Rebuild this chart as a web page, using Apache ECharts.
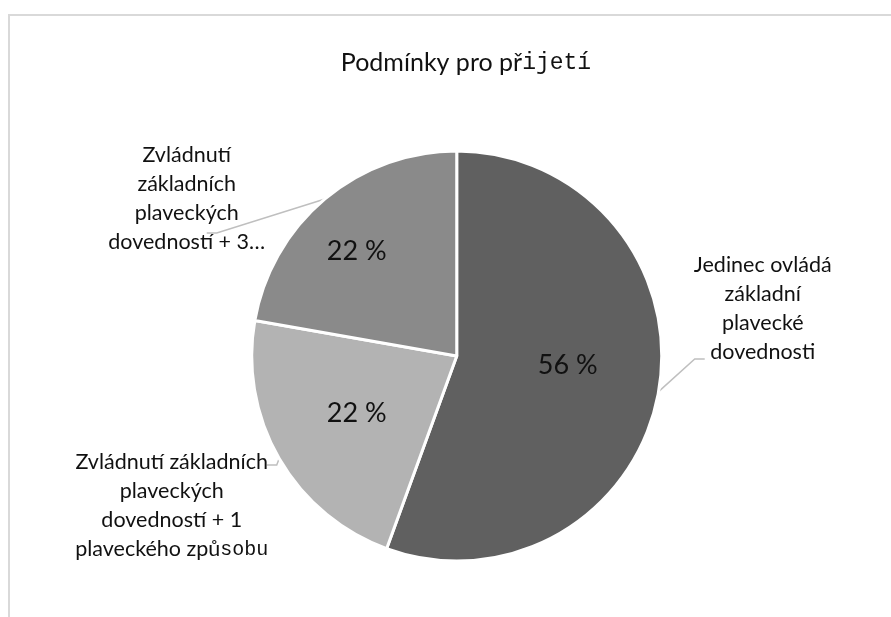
<!DOCTYPE html>
<html><head><meta charset="utf-8">
<script src="https://cdn.jsdelivr.net/npm/echarts@6/dist/echarts.min.js"></script>
<style>html,body{margin:0;padding:0;background:#fff}#c{width:891px;height:617px}</style>
</head><body><div id="c"></div>
<script>
// ---- data ----
const categories = [
  'Jedinec ovládá základní plavecké dovednosti',
  'Zvládnutí základních plaveckých dovedností + 1 plaveckého způsobu',
  'Zvládnutí základních plaveckých dovedností + 3…'
];
const values = [5, 2, 2];
const labelTexts = [
  'Jedinec ovládá\nzákladní\nplavecké\ndovednosti',
  'Zvládnutí základních\nplaveckých\ndovedností + 1\nplaveckého způ{m|sobu}',
  'Zvládnutí\nzákladních\nplaveckých\ndovedností + 3…'
];
const titleText = '{a|Podmínky pro př}{b|ijetí}';

// ---- styles / layout ----
const colors = ['#606060', '#b3b3b3', '#8a8a8a'];
const CX = 0.5126, CY = 0.577, R = 205;
const FONT = 'Lato';
const MONO = 'Liberation Mono';
// outside label placement relative to pie centre
const outLayout = [
  {c: [306, -47], elbow: [238, 3], end: [248, 3]},
  {c: [-285, 150], elbow: [-180, 109], end: [-190, 109]},
  {c: [-270, -157], elbow: [-240, -123], end: [-250, -123]}
];
const inLayout = [[111, 9], [-100, 57], [-100, -105]];

const chart = echarts.init(document.getElementById('c'), null, {renderer: 'canvas'});
const W = chart.getWidth(), H = chart.getHeight();
const cx = W * CX, cy = H * CY;

const pieData = categories.map((n, i) => ({name: n, value: values[i], itemStyle: {color: colors[i]}}));

chart.setOption({
  animation: false,
  backgroundColor: '#ffffff',
  graphic: [{
    type: 'rect', silent: true, z: -10,
    shape: {x: 9, y: 15, width: 1000, height: 1000},
    style: {fill: 'none', stroke: '#d9d9d9', lineWidth: 2}
  }],
  title: {
    text: titleText,
    left: 461, top: 45, textAlign: 'center',
    textStyle: {
      fontWeight: 'normal',
      rich: {
        a: {fontFamily: FONT, fontSize: 25, fontWeight: 'normal', color: '#111'},
        b: {fontFamily: MONO, fontSize: 23, fontWeight: 'normal', color: '#111'}
      }
    }
  },
  series: [
    {
      type: 'pie',
      center: [(CX * 100) + '%', (CY * 100) + '%'],
      radius: R,
      startAngle: 90,
      clockwise: true,
      avoidLabelOverlap: false,
      itemStyle: {borderColor: '#ffffff', borderWidth: 3},
      emphasis: {disabled: true},
      data: pieData,
      label: {
        show: true, position: 'outside',
        fontFamily: FONT, fontSize: 21.5, lineHeight: 29, color: '#111',
        formatter: p => labelTexts[p.dataIndex],
        rich: {m: {fontFamily: MONO, fontSize: 20, lineHeight: 29, color: '#111'}}
      },
      labelLine: {show: true, lineStyle: {color: '#bfbfbf', width: 1.5}},
      labelLayout: function (p) {
        const o = outLayout[p.dataIndex];
        const start = p.labelLinePoints ? p.labelLinePoints[0] : [cx, cy];
        return {
          x: cx + o.c[0], y: cy + o.c[1], align: 'center', verticalAlign: 'middle',
          labelLinePoints: [start, [cx + o.elbow[0], cy + o.elbow[1]], [cx + o.end[0], cy + o.end[1]]]
        };
      }
    },
    {
      type: 'pie',
      center: [(CX * 100) + '%', (CY * 100) + '%'],
      radius: R,
      startAngle: 90,
      clockwise: true,
      silent: true,
      itemStyle: {color: 'rgba(0,0,0,0)', borderWidth: 0},
      emphasis: {disabled: true},
      data: categories.map((n, i) => ({name: n, value: values[i]})),
      label: {
        show: true, position: 'inside',
        fontFamily: FONT, fontSize: 27, color: '#111',
        formatter: p => Math.round(p.percent) + ' %'
      },
      labelLine: {show: false},
      labelLayout: function (p) {
        const o = inLayout[p.dataIndex];
        return {x: cx + o[0], y: cy + o[1], align: 'center', verticalAlign: 'middle'};
      }
    }
  ]
});
</script>
</body></html>
